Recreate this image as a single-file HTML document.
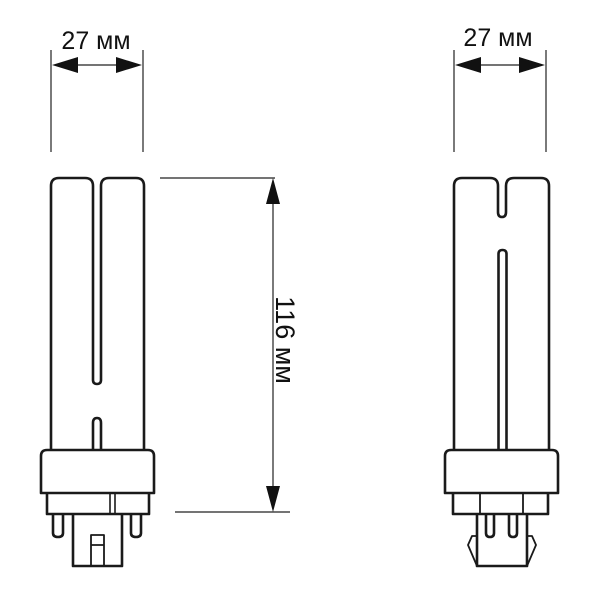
<!DOCTYPE html>
<html><head><style>body{margin:0;background:#fff}</style></head><body>
<svg width="600" height="600" viewBox="0 0 600 600" xmlns="http://www.w3.org/2000/svg">
<rect width="600" height="600" fill="#fff"/>
<g fill="none" stroke="#1a1a1a" stroke-width="2.6" stroke-linejoin="round">
<path d="M51,450 V186 Q51,178 59,178 H85 Q93,178 93,186 V380 Q93,384 97,384 Q101,384 101,380 V186 Q101,178 109,178 H136 Q144,178 144,186 V450"/>
<path d="M93,450 V423 Q93,418 97,418 Q101,418 101,423 V450"/>
<path d="M41,493 V456 Q41,450 47,450 H148 Q154,450 154,456 V493 Z"/>
<path d="M47,493 V514 H149 V493"/>
<path d="M110,493 V514 M115,493 V514" stroke-width="1.6"/>
<path d="M53,514 V533 Q53,537 58,537 Q63,537 63,533 V514"/>
<path d="M131,514 V533 Q131,537 136,537 Q141,537 141,533 V514"/>
<path d="M73,514 V566 H122 V514"/>
<path d="M91,566 V535 H104 V566 M91,545 H104" stroke-width="1.8"/>
<path d="M454,450 V186 Q454,178 462,178 H490 Q498,178 498,186 V212 Q498,217 502,217 Q506,217 506,212 V186 Q506,178 514,178 H541 Q549,178 549,186 V450"/>
<path d="M498.5,450 V254 Q498.5,250 502.5,250 Q506.5,250 506.5,254 V450"/>
<path d="M445,493 V456 Q445,450 451,450 H552 Q558,450 558,456 V493 Z"/>
<path d="M453,493 V514 H548 V493"/>
<path d="M480,493 V514 M523,493 V514" stroke-width="1.8"/>
<path d="M477,514 V566 H527 V514"/>
<path d="M486,514 V533 Q486,537 490,537 Q494,537 494,533 V514"/>
<path d="M509,514 V533 Q509,537 513,537 Q517,537 517,533 V514"/>
<path d="M477,536 H472 L468,545 L477,566 M527,536 H532 L536,545 L527,566" stroke-width="1.8"/>
</g>
<g stroke="#222" stroke-width="1.2" fill="none">
<path d="M51,50 V152 M143,50 V152 M72,65 H122"/>
<path d="M454,50 V152 M546,50 V152 M475,65 H525"/>
<path d="M160,178 H275 M175,512 H290 M273,200 V490"/>
</g>
<g fill="#111">
<path d="M52,65 L78,57 L78,73 Z M142,65 L116,57 L116,73 Z"/>
<path d="M455,65 L481,57 L481,73 Z M545,65 L519,57 L519,73 Z"/>
<path d="M273,178 L266,204 L280,204 Z M273,512 L266,486 L280,486 Z"/>
</g>
<g font-family="Liberation Sans, sans-serif" font-size="25" fill="#111" text-anchor="middle">
<text x="96" y="49">27 мм</text>
<text x="498" y="46">27 мм</text>
<text transform="translate(276,340) rotate(90)" font-size="27">116 мм</text>
</g>
</svg>
</body></html>
